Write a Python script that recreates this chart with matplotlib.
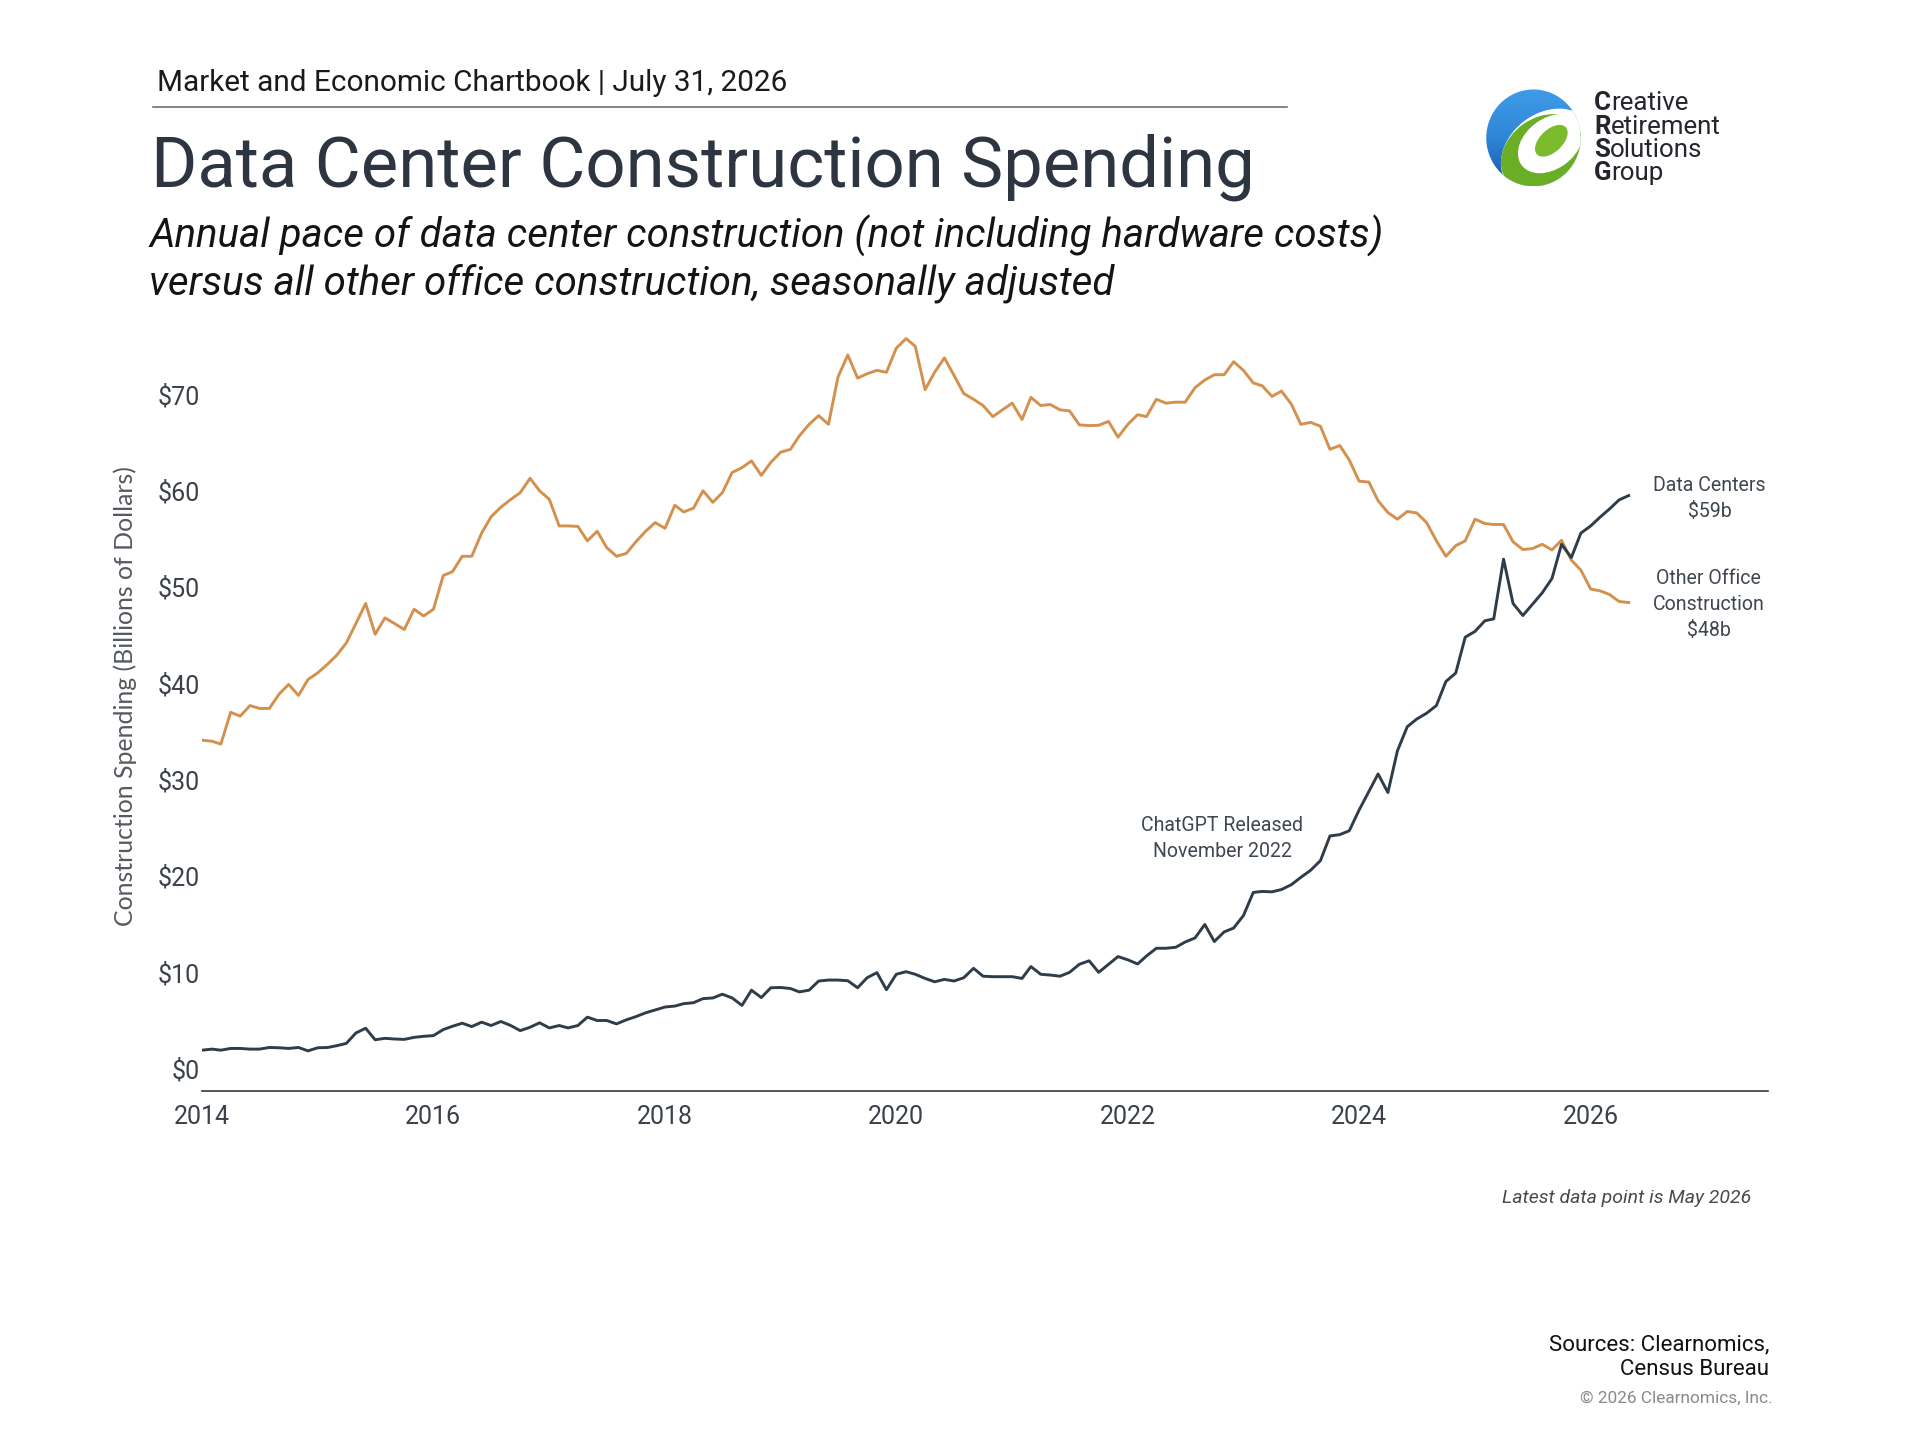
import matplotlib
matplotlib.use("Agg")
import matplotlib.pyplot as plt
from matplotlib.patches import Ellipse, Circle
from matplotlib.lines import Line2D
from matplotlib.colors import LinearSegmentedColormap
import numpy as np
import pandas as pd

# ---------------- data (monthly, Jan 2014 - May 2026, $ billions SAAR) ----------------
start_month = "2014-01-01"
other_office = [
    34.1, 34.0, 33.7, 37.0, 36.6, 37.7, 37.4, 37.4, 38.9, 39.9, 38.75, 40.4,
    41.1, 42.0, 42.9, 44.2, 46.2, 48.3, 45.1, 46.8, 46.2, 45.6, 47.7, 47.0,
    47.7, 51.2, 51.6, 53.2, 53.2, 55.6, 57.3, 58.3, 59.1, 59.8, 61.3, 60.0,
    59.1, 56.35, 56.35, 56.3, 54.8, 55.8, 54.1, 53.2, 53.5, 54.7, 55.8, 56.7,
    56.1, 58.5, 57.8, 58.2, 60.0, 58.8, 59.8, 61.9, 62.4, 63.1, 61.6, 62.95,
    64.0, 64.3, 65.7, 66.9, 67.8, 66.9, 71.8, 74.1, 71.7, 72.15, 72.5, 72.3,
    74.8, 75.8, 75.0, 70.5, 72.3, 73.8, 72.0, 70.1, 69.5, 68.85, 67.7, 68.4,
    69.1, 67.4, 69.7, 68.85, 68.96, 68.4, 68.3, 66.84, 66.77, 66.8, 67.2, 65.56,
    66.9, 67.9, 67.7, 69.5, 69.1, 69.2, 69.2, 70.7, 71.5, 72.05, 72.05, 73.4,
    72.5, 71.2, 70.9, 69.8, 70.35, 69.0, 66.9, 67.1, 66.7, 64.3, 64.7, 63.2,
    61.0, 60.9, 58.96, 57.74, 57.05, 57.85, 57.7, 56.7, 54.8, 53.2, 54.3, 54.8,
    57.05, 56.6, 56.5, 56.5, 54.7, 53.9, 54.0, 54.44, 53.86, 54.86, 52.8, 51.77,
    49.8, 49.6, 49.24, 48.5, 48.4,
]
data_centers = [
    1.92, 2.03, 1.92, 2.1, 2.1, 2.03, 2.03, 2.2, 2.17, 2.1, 2.2, 1.85,
    2.17, 2.2, 2.38, 2.62, 3.7, 4.2, 3.0, 3.15, 3.08, 3.04, 3.25, 3.36,
    3.43, 4.06, 4.4, 4.72, 4.37, 4.83, 4.48, 4.9, 4.48, 3.95, 4.3, 4.76,
    4.23, 4.48, 4.23, 4.48, 5.35, 5.0, 5.0, 4.65, 5.07, 5.4, 5.8, 6.1,
    6.4, 6.5, 6.75, 6.85, 7.27, 7.34, 7.73, 7.34, 6.57, 8.15, 7.38, 8.4,
    8.43, 8.32, 7.97, 8.15, 9.1, 9.2, 9.2, 9.13, 8.4, 9.44, 9.97, 8.2,
    9.8, 10.07, 9.8, 9.37, 9.02, 9.27, 9.1, 9.44, 10.42, 9.6, 9.55, 9.55,
    9.55, 9.37, 10.6, 9.8, 9.72, 9.6, 10.0, 10.84, 11.2, 10.0, 10.84, 11.64,
    11.3, 10.87, 11.7, 12.5, 12.5, 12.6, 13.15, 13.57, 14.97, 13.2, 14.2, 14.6,
    15.9, 18.3, 18.4, 18.36, 18.6, 19.1, 19.86, 20.6, 21.6, 24.16, 24.3, 24.7,
    26.85, 28.8, 30.6, 28.67, 33.0, 35.5, 36.3, 36.9, 37.7, 40.2, 41.07, 44.8,
    45.4, 46.5, 46.7, 52.9, 48.3, 47.05, 48.2, 49.4, 50.9, 54.44, 53.06, 55.6,
    56.35, 57.3, 58.1, 59.06, 59.5,
]
y_ticks = [0, 10, 20, 30, 40, 50, 60, 70]
x_tick_years = [2014, 2016, 2018, 2020, 2022, 2024, 2026]

header_text = "Market and Economic Chartbook | July 31, 2026"
title_text = "Data Center Construction Spending"
subtitle_1 = "Annual pace of data center construction (not including hardware costs)"
subtitle_2 = "versus all other office construction, seasonally adjusted"
ylabel_text = "Construction Spending (Billions of Dollars)"
dc_label = "Data Centers\n$59b"
oo_label = "Other Office\nConstruction\n$48b"
chatgpt_label = "ChatGPT Released\nNovember 2022"
latest_text = "Latest data point is May 2026"
sources_text = "Sources: Clearnomics,\nCensus Bureau"
copyright_text = "\u00a9 2026 Clearnomics, Inc."
logo_words = [("C", "reative"), ("R", "etirement"), ("S", "olutions"), ("G", "roup")]

# ---------------- styling ----------------
ORANGE = "#D4914E"
DARK = "#2F3C4A"
W_D, H_D = 1567.0, 1175.0   # reference measurement frame
FW, FH = 1920, 1440
K = FW / W_D

def fx(x):
    return x / W_D

def fy(y):
    return 1 - y / H_D

FONT = "Roboto"
plt.rcParams["font.family"] = [FONT, "DejaVu Sans"]

fig = plt.figure(figsize=(19.2, 14.4), dpi=100)
fig.patch.set_facecolor("white")
renderer = fig.canvas.get_renderer()

def fit(t, target_disp_px):
    w = t.get_window_extent(renderer).width
    t.set_fontsize(t.get_fontsize() * target_disp_px * K / w)
    return t

# ---------------- main axes ----------------
ax = fig.add_axes([fx(165), fy(890), fx(1443) - fx(165), fy(259) - fy(890)])
dates = pd.date_range(start_month, periods=len(other_office), freq="MS")
ax.plot(dates, other_office, color=ORANGE, lw=2.1, solid_joinstyle="round", zorder=3)
ax.plot(dates, data_centers, color=DARK, lw=2.1, solid_joinstyle="round", zorder=4)

ax.set_xlim(pd.Timestamp("2014-01-01"), pd.Timestamp("2027-07-15"))
ax.set_ylim(-2.29, 78)
ax.set_yticks(y_ticks)
ax.set_yticklabels([f"${v}" for v in y_ticks])
ax.set_xticks([pd.Timestamp(f"{y}-01-01") for y in x_tick_years])
ax.set_xticklabels([str(y) for y in x_tick_years])
ax.tick_params(axis="y", length=0, pad=2, labelsize=18, labelcolor="#3b4149")
ax.tick_params(axis="x", length=0, pad=10, labelsize=18, labelcolor="#3b4149")
for s in ["top", "right", "left"]:
    ax.spines[s].set_visible(False)
ax.spines["bottom"].set_color("#3a3a3a")
ax.spines["bottom"].set_linewidth(1.2)
ax.grid(False)

ann_kw = dict(ha="center", va="center", color="#3e4650", fontsize=15,
              linespacing=1.45, clip_on=False)
t_dc = ax.text(pd.Timestamp("2027-01-12"), 59.2, dc_label, **ann_kw)
fit(t_dc, 92)
t_oo = ax.text(pd.Timestamp("2027-01-08"), 48.2, oo_label, **ann_kw)
t_oo.set_fontsize(t_dc.get_fontsize())
t_cg = ax.text(pd.Timestamp("2022-10-26"), 23.9, chatgpt_label, **ann_kw)
t_cg.set_fontsize(t_dc.get_fontsize())

# y label
t_yl = fig.text(fx(102), fy(568), ylabel_text, rotation=90, ha="center", va="center",
                color="#555a60", fontsize=16, family=["Lato", "DejaVu Sans"])
h = t_yl.get_window_extent(renderer).height
t_yl.set_fontsize(t_yl.get_fontsize() * 377 * K / h)

# ---------------- header ----------------
t_h = fig.text(fx(128), fy(74), header_text, ha="left", va="baseline",
               color="#1a1a1a", fontsize=18)
fit(t_h, 514)
fig.add_artist(Line2D([fx(125), fx(1050)], [fy(87), fy(87)], transform=fig.transFigure,
                      color="#6b7075", lw=1.2))
t_t = fig.text(fx(123), fy(152), title_text, ha="left", va="baseline",
               color="#2c3540", fontsize=50)
fit(t_t, 901)
t_s1 = fig.text(fx(122), fy(202), subtitle_1, ha="left", va="baseline",
                color="#141414", fontsize=28, style="italic")
fit(t_s1, 1007)
t_s2 = fig.text(fx(122), fy(240), subtitle_2, ha="left", va="baseline",
                color="#141414", fontsize=t_s1.get_fontsize(), style="italic")

# ---------------- logo ----------------
lax = fig.add_axes([fx(1213), fy(152), fx(1290) - fx(1213), fy(73) - fy(152)])
lax.set_xlim(-1, 1)
lax.set_ylim(-1, 1)
lax.axis("off")
clip = Circle((0, 0), 1.0, transform=lax.transData)
grad = np.linspace(0, 1, 256).reshape(-1, 1)
bcm = LinearSegmentedColormap.from_list("b", ["#1655a3", "#2f86d8", "#3f9be8"])
im = lax.imshow(grad, extent=[-1, 1, -1, 1], origin="lower", cmap=bcm, aspect="auto", zorder=1)
im.set_clip_path(clip)
e1 = Ellipse((0.30, -0.30), 2.1, 1.6, angle=35, color="white", zorder=2)
e2 = Ellipse((0.18, -0.30), 1.85, 1.38, angle=35, color="#6aae25", zorder=3)
e3 = Ellipse((0.36, -0.12), 1.48, 1.02, angle=35, color="white", zorder=4)
e4 = Ellipse((0.38, -0.06), 0.80, 0.44, angle=42, color="#7cbc2c", zorder=5)
for e in (e1, e2, e3, e4):
    lax.add_patch(e)
    e.set_clip_path(Circle((0, 0), 1.0, transform=lax.transData))

logo_base = [90, 109, 128, 147]
logo_pairs = []
for (ini, rest), yb in zip(logo_words, logo_base):
    ti = fig.text(fx(1301), fy(yb), ini, ha="left", va="baseline", color="#23262d",
                  fontsize=17, fontweight="bold")
    tr = fig.text(0, fy(yb), rest, ha="left", va="baseline", color="#23262d", fontsize=17)
    logo_pairs.append((ti, tr))
ti_r, tr_r = logo_pairs[1]
w = ti_r.get_window_extent(renderer).width + tr_r.get_window_extent(renderer).width
scale = 104 * K / w
for ti, tr in logo_pairs:
    ti.set_fontsize(ti.get_fontsize() * scale)
    tr.set_fontsize(tr.get_fontsize() * scale)
for ti, tr in logo_pairs:
    bb = ti.get_window_extent(renderer)
    tr.set_position((bb.x1 / FW, ti.get_position()[1]))

# ---------------- footer ----------------
t_l = fig.text(fx(1429), fy(982), latest_text, ha="right", va="baseline",
               color="#4a4a4a", fontsize=14, style="italic")
fit(t_l, 204)
t_src = fig.text(fx(1444), fy(1122), sources_text, ha="right", va="baseline",
                 color="#111111", fontsize=15, linespacing=1.25, multialignment="right")
ts_tmp = fig.text(0, 0, "Sources: Clearnomics,", fontsize=15)
w = ts_tmp.get_window_extent(renderer).width
t_src.set_fontsize(15 * 180 * K / w)
ts_tmp.remove()
t_c = fig.text(fx(1447), fy(1145), copyright_text, ha="right", va="baseline",
               color="#8a8a8a", fontsize=12)
fit(t_c, 157)

fig.savefig("out.png", dpi=100, facecolor="white")
